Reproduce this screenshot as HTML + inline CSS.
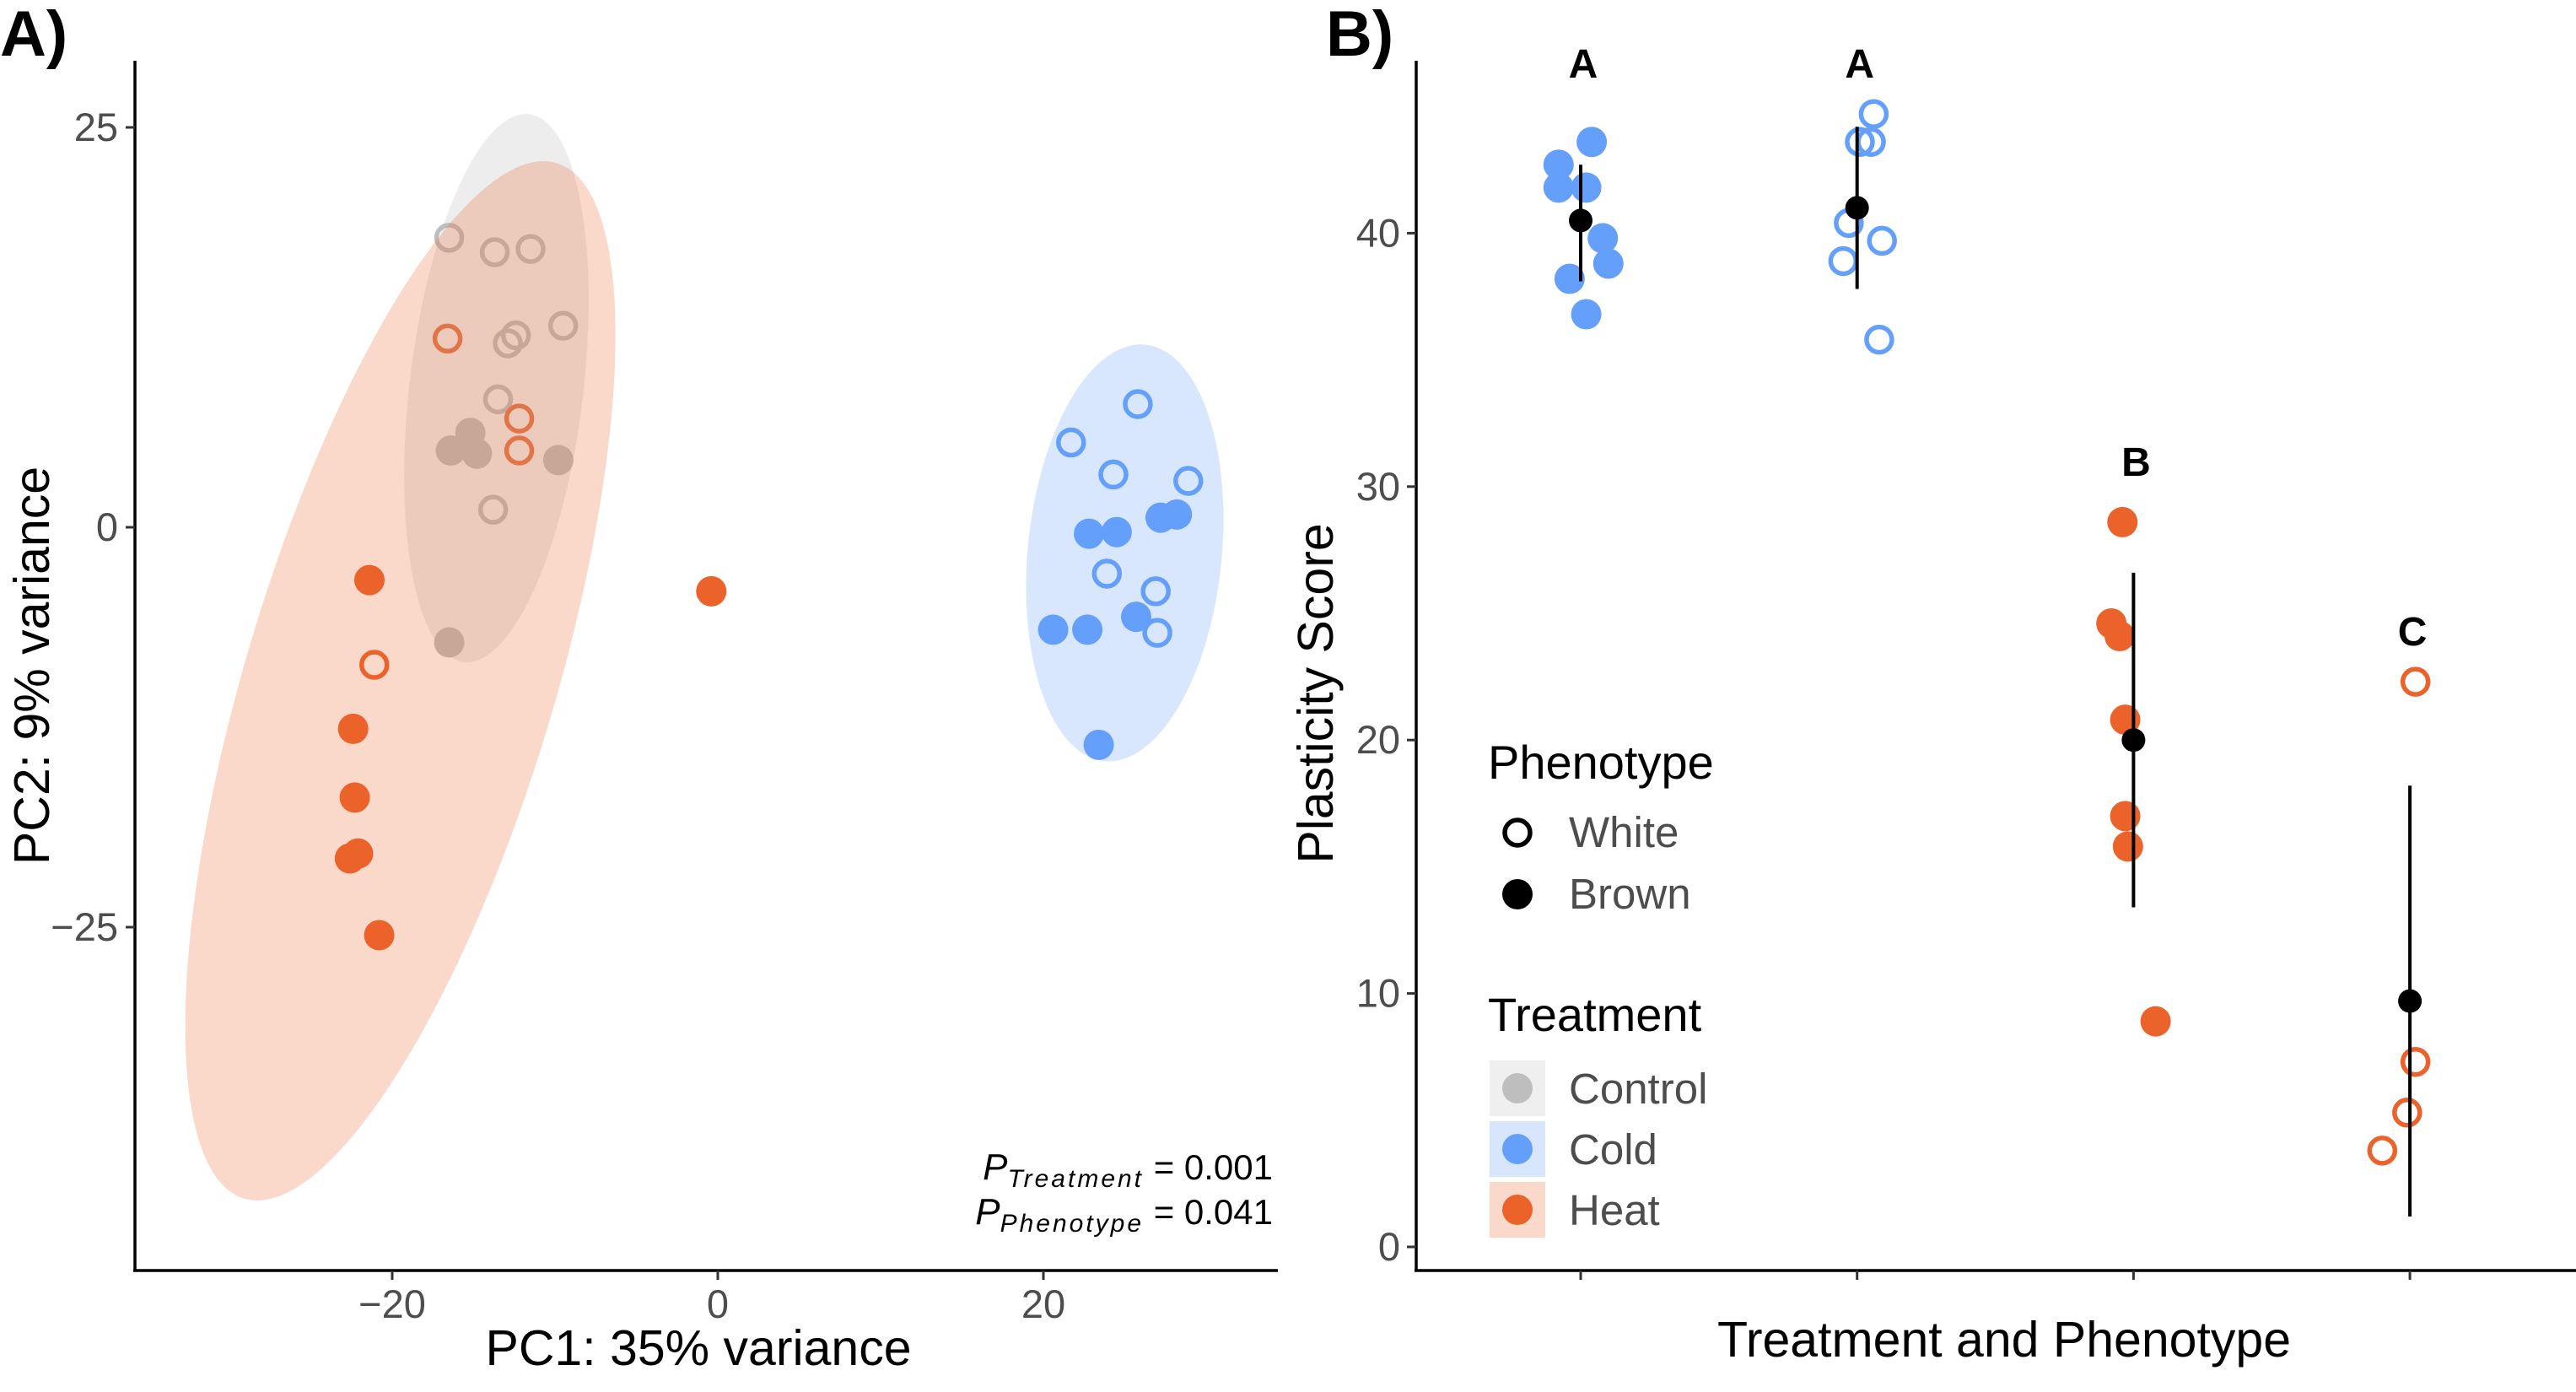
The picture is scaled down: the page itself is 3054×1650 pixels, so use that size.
<!DOCTYPE html>
<html><head><meta charset="utf-8">
<style>
html,body{margin:0;padding:0;background:#fff;}
svg{display:block;font-family:"Liberation Sans",Arial,sans-serif;}
</style></head>
<body>
<svg id="fig" width="3054" height="1650" viewBox="0 0 3054 1650" xmlns="http://www.w3.org/2000/svg">
<g id="panelA"></g>
<g id="panelB"></g>
</svg>
<script>
// ---------- Panel A data ----------
const pcaXTicks = [-20, 0, 20];
const pcaYTicks = [25, 0, -25];
const ctrlWhiteX = [-16.5,-13.7,-11.5,-9.5,-12.4,-12.9,-13.5,-13.8];
const ctrlWhiteY = [18.1,17.2,17.4,12.6,12.0,11.5,8.0,1.1];
const ctrlBrownX = [-16.4,-15.2,-14.8,-9.8,-16.5];
const ctrlBrownY = [4.8,5.9,4.6,4.2,-7.2];
const heatWhiteX = [-16.6,-12.2,-12.2,-21.1];
const heatWhiteY = [11.8,6.8,4.8,-8.6];
const heatBrownX = [-21.4,-0.4,-22.4,-22.3,-22.6,-22.1,-20.8];
const heatBrownY = [-3.3,-4.0,-12.6,-16.9,-20.7,-20.4,-25.5];
const coldWhiteX = [25.8,21.7,24.3,28.9,23.9,26.9,27.0];
const coldWhiteY = [7.7,5.3,3.3,2.9,-2.9,-4.0,-6.6];
const coldBrownX = [22.8,24.5,27.2,28.2,20.6,22.7,25.7,23.4];
const coldBrownY = [-0.4,-0.3,0.6,0.8,-6.4,-6.4,-5.6,-13.6];
const ellCenterX = [-13.6, -19.5, 25.0];
const ellCenterY = [8.7, -9.6, -1.6];
const ellNames = ['control','heat','cold'];

// ---------- Panel B data ----------
const groups = ['Cold Brown','Cold White','Heat Brown','Heat White'];
const bTicks = [0,10,20,30,40];
const g1Y = [42.7,43.6,41.8,41.8,39.8,38.8,38.2,36.8];
const g1J = [-0.08,0.04,-0.08,0.02,0.08,0.10,-0.04,0.02];
const g2Y = [44.7,43.6,43.6,40.4,38.9,39.7,35.8];
const g2J = [0.06,0.01,0.05,-0.03,-0.05,0.09,0.08];
const g3Y = [28.6,24.6,24.1,20.8,17.0,15.8,8.9];
const g3J = [-0.04,-0.08,-0.05,-0.03,-0.03,-0.02,0.08];
const g4Y = [22.3,7.3,5.3,3.8];
const g4J = [0.02,0.02,-0.01,-0.10];
const means = [40.5,41.0,20.0,9.7];
const errLo = [38.1,37.8,13.4,1.2];
const errHi = [42.7,44.2,26.6,18.2];
const letters = ['A','A','B','C'];
const letterY = [46.7,46.7,31.0,24.3];

const NS='http://www.w3.org/2000/svg';
function mk(parent,tag,attrs,text){const e=document.createElementNS(NS,tag);for(const k in attrs)e.setAttribute(k,attrs[k]);if(text!==undefined)e.textContent=text;parent.appendChild(e);return e;}
const GRAY='#bebebe',BLUE='#64a0fb',ORANGE='#eb632b';

// ---------- Panel A ----------
const A=document.getElementById('panelA');
const ax=v=>851+(v)*19.3;
const ay=v=>625-(v)*18.96;
function ptsA(xs,ys,col,open,name){
  const g=mk(A,'g',{});
  
  
  xs.forEach((x,i)=>{
    const c=open?mk(g,'circle',{cx:ax(x),cy:ay(ys[i]),r:15,fill:'none',stroke:col,'stroke-width':5.5}):mk(g,'circle',{cx:ax(x),cy:ay(ys[i]),r:18,fill:col});
    
    
  });
}
ptsA(ctrlWhiteX,ctrlWhiteY,GRAY,true,'control-white-points');
ptsA(ctrlBrownX,ctrlBrownY,GRAY,false,'control-brown-points');
ptsA(coldWhiteX,coldWhiteY,BLUE,true,'cold-white-points');
ptsA(coldBrownX,coldBrownY,BLUE,false,'cold-brown-points');
ptsA(heatWhiteX,heatWhiteY,ORANGE,true,'heat-white-points');
ptsA(heatBrownX,heatBrownY,ORANGE,false,'heat-brown-points');
const ellRx=[103,183,115];
const ellRy=[327,641,248];
const ellRot=[6.8,16.8,5.6];
const ellFill=[GRAY,ORANGE,BLUE];
const ellOp=[0.27,0.25,0.25];
ellNames.forEach((n,i)=>{
  const e=mk(A,'ellipse',{cx:ax(ellCenterX[i]),cy:ay(ellCenterY[i]),rx:ellRx[i],ry:ellRy[i],fill:ellFill[i],'fill-opacity':ellOp[i],transform:`rotate(${ellRot[i]} ${ax(ellCenterX[i])} ${ay(ellCenterY[i])})`});
  
  
});
mk(A,'line',{x1:160,y1:72,x2:160,y2:1507,stroke:'#000','stroke-width':3.5});
mk(A,'line',{x1:158,y1:1506,x2:1515,y2:1506,stroke:'#000','stroke-width':3.5});
pcaXTicks.forEach(t=>{
  mk(A,'line',{x1:ax(t),y1:1506,x2:ax(t),y2:1517,stroke:'#333','stroke-width':3});
  const tx=mk(A,'text',{x:ax(t),y:1562,'font-size':47,fill:'#4d4d4d','text-anchor':'middle'},t<0?'\u2212'+(-t):String(t));
  
  
});
pcaYTicks.forEach(t=>{
  mk(A,'line',{x1:149,y1:ay(t),x2:160,y2:ay(t),stroke:'#333','stroke-width':3});
  const tx=mk(A,'text',{x:140,y:ay(t)+16,'font-size':47,fill:'#4d4d4d','text-anchor':'end'},t<0?'\u2212'+(-t):String(t));
  
  
});
</script>
<script>
(function(){
const A=document.getElementById('panelA');
A.insertAdjacentHTML('beforeend',
 '<text x="828" y="1618" font-size="59" text-anchor="middle">PC1: 35% variance</text>'+
 '<text x="0" y="0" font-size="59" text-anchor="middle" transform="translate(58 789) rotate(-90)">PC2: 9% variance</text>'+
 '<text x="0" y="66" font-size="76" font-weight="bold">A)</text>'+
 '<text x="1509" y="1398" font-size="42" text-anchor="end"><tspan font-style="italic" font-size="44">P</tspan><tspan font-style="italic" font-size="30" dy="9" letter-spacing="3">Treatment</tspan><tspan dy="-9"> = 0.001</tspan></text>'+
 '<text x="1509" y="1451" font-size="42" text-anchor="end"><tspan font-style="italic" font-size="44">P</tspan><tspan font-style="italic" font-size="30" dy="9" letter-spacing="3">Phenotype</tspan><tspan dy="-9"> = 0.041</tspan></text>');
})();
// ---------- Panel B ----------
const B=document.getElementById('panelB');
const bx=i=>1874+i*327.7;
const by=v=>1478-v*30.04;
const allY=[g1Y,g2Y,g3Y,g4Y], allJ=[g1J,g2J,g3J,g4J];
const gCol=[BLUE,BLUE,ORANGE,ORANGE], gOpen=[false,true,false,true];
allY.forEach((ys,gi)=>{
  const g=mk(B,'g',{});
  
  
  ys.forEach((v,i)=>{
    const x=bx(gi+allJ[gi][i]);
    const c=gOpen[gi]?mk(g,'circle',{cx:x,cy:by(v),r:15,fill:'none',stroke:gCol[gi],'stroke-width':5.5}):mk(g,'circle',{cx:x,cy:by(v),r:18,fill:gCol[gi]});
    
    
  });
});
means.forEach((m,i)=>{
  const l=mk(B,'line',{x1:bx(i),y1:by(errLo[i]),x2:bx(i),y2:by(errHi[i]),stroke:'#000','stroke-width':4});
  
  
  const c=mk(B,'circle',{cx:bx(i),cy:by(m),r:14,fill:'#000'});
  
  
  const t=mk(B,'text',{x:bx(i)+3,y:by(letterY[i])+17,'font-size':48,'font-weight':'bold','text-anchor':'middle'},letters[i]);
  
  
});
mk(B,'line',{x1:1679,y1:72,x2:1679,y2:1507,stroke:'#000','stroke-width':3.5});
mk(B,'line',{x1:1677,y1:1506,x2:3054,y2:1506,stroke:'#000','stroke-width':3.5});
bTicks.forEach(t=>{
  mk(B,'line',{x1:1668,y1:by(t),x2:1679,y2:by(t),stroke:'#333','stroke-width':3});
  const tx=mk(B,'text',{x:1660,y:by(t)+16,'font-size':47,fill:'#4d4d4d','text-anchor':'end'},String(t));
  
  
});
groups.forEach((g,i)=>{
  const l=mk(B,'line',{x1:bx(i),y1:1506,x2:bx(i),y2:1517,stroke:'#333','stroke-width':3});
  
  
});
B.insertAdjacentHTML('beforeend',
 '<text x="2376" y="1608" font-size="59" text-anchor="middle">Treatment and Phenotype</text>'+
 '<text x="0" y="0" font-size="59" text-anchor="middle" transform="translate(1580 822) rotate(-90)">Plasticity Score</text>'+
 '<text x="1572" y="66" font-size="76" font-weight="bold">B)</text>'+
 '<g>'+
 '<text x="1764" y="923" font-size="56">Phenotype</text>'+
 '<circle cx="1799" cy="987" r="15" fill="none" stroke="#000" stroke-width="5.5"/>'+
 '<text x="1860" y="1004" font-size="51" fill="#4d4d4d">White</text>'+
 '<circle cx="1799" cy="1060" r="18" fill="#000"/>'+
 '<text x="1860" y="1077" font-size="51" fill="#4d4d4d">Brown</text>'+
 '<text x="1764" y="1222" font-size="56">Treatment</text>'+
 '<rect x="1766" y="1257" width="66" height="66" fill="#efefef"/>'+
 '<circle cx="1799" cy="1290" r="18" fill="#bebebe"/>'+
 '<text x="1860" y="1308" font-size="51" fill="#4d4d4d">Control</text>'+
 '<rect x="1766" y="1329" width="66" height="66" fill="#d7e6fd"/>'+
 '<circle cx="1799" cy="1362" r="18" fill="#64a0fb"/>'+
 '<text x="1860" y="1380" font-size="51" fill="#4d4d4d">Cold</text>'+
 '<rect x="1766" y="1401" width="66" height="66" fill="#fbd9ca"/>'+
 '<circle cx="1799" cy="1434" r="18" fill="#eb632b"/>'+
 '<text x="1860" y="1452" font-size="51" fill="#4d4d4d">Heat</text>'+
 '</g>');
</script>
</body></html>
